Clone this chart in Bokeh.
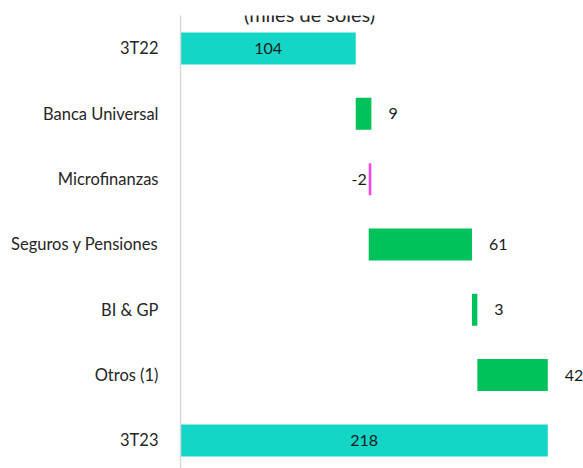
from bokeh.plotting import figure
from bokeh.models import ColumnDataSource, FixedTicker, Label
from bokeh.core.properties import value
from bokeh.embed import file_html
from bokeh.resources import INLINE

# ---- data ----
categories = ["3T22", "Banca Universal", "Microfinanzas", "Seguros y Pensiones",
              "BI & GP", "Otros (1)", "3T23"]
values = [104.0, 9.3, -1.6, 61.3, 3.2, 41.8, 218.0]
value_labels = ["104", "9", "-2", "61", "3", "42", "218"]
kinds = ["total", "delta", "delta", "delta", "delta", "delta", "total"]
title_text = "(miles de soles)"

TEAL = "#13D6C6"
GREEN = "#00C25A"
MAGENTA = "#EE4EE2"

n = len(categories)
ys, lefts, rights, colors = [], [], [], []
lab_x, lab_align, lab_off = [], [], []
running = 0.0
for i, (v, k) in enumerate(zip(values, kinds)):
    ys.append(n - 1 - i)
    if k == "total":
        l, r = 0.0, v
        running = v
        colors.append(TEAL)
        lab_x.append((l + r) / 2); lab_align.append("center"); lab_off.append(0)
    else:
        start = running
        running = running + v
        l, r = min(start, running), max(start, running)
        if v >= 0:
            colors.append(GREEN)
            lab_x.append(r); lab_align.append("left"); lab_off.append(17)
        else:
            colors.append(MAGENTA)
            lab_x.append(l); lab_align.append("right"); lab_off.append(-2)
    lefts.append(l); rights.append(r)

src = ColumnDataSource(dict(y=ys, left=lefts, right=rights, color=colors,
                            lx=lab_x, la=lab_align, lo=lab_off, txt=value_labels))

FONT = "Lato"
Y0, Y1 = -0.43, 6.505
p = figure(width=583, height=468, output_backend="svg", toolbar_location=None,
           x_range=(0, 239.2), y_range=(Y0, Y1), x_axis_location=None,
           min_border_left=180, min_border_right=0, min_border_top=15, min_border_bottom=0)
p.outline_line_color = None
p.grid.visible = False
p.background_fill_color = "white"

p.hbar(y="y", left="left", right="right", height=0.49, fill_color="color",
       line_color=None, source=src)
p.text(x="lx", y="y", text="txt", text_align="la", x_offset="lo",
       text_baseline="middle", text_font=value(FONT), text_font_size="16px",
       text_color="#1a1a1a", source=src)

ax = p.yaxis[0]
ax.ticker = FixedTicker(ticks=ys)
ax.major_label_overrides = {y: c for y, c in zip(ys, categories)}
ax.major_tick_line_color = None
ax.minor_tick_line_color = None
ax.axis_line_color = "#d9d9d9"
ax.axis_line_width = 1.5
ax.major_label_standoff = 16
ax.major_label_text_font = FONT
ax.major_label_text_font_size = "16.5px"
ax.major_label_text_color = "#262626"

px_per_y = 453 / (Y1 - Y0)
p.add_layout(Label(x=76.6, y=Y1 + 14 / px_per_y, x_units="data", y_units="data",
                   text=title_text, text_align="center", text_baseline="top",
                   text_font=FONT, text_font_size="20px", text_color="#262626"))

open("out.html", "w").write(file_html(p, INLINE))
